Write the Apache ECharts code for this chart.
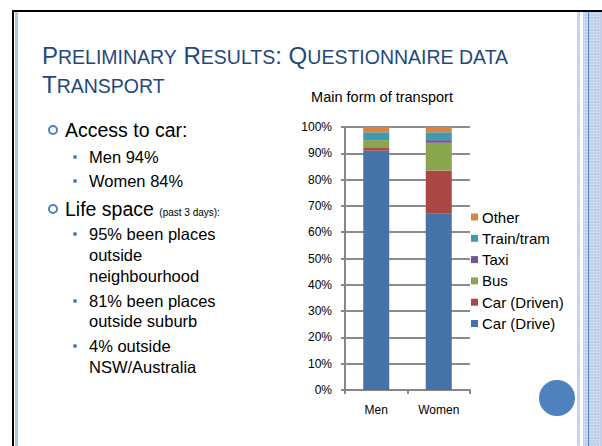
<!DOCTYPE html>
<html>
<head>
<meta charset="utf-8">
<script src="https://cdn.jsdelivr.net/npm/echarts@6/dist/echarts.min.js"></script>
<style>
  html, body { margin: 0; padding: 0; background: #fff; }
  #slide { position: relative; width: 602px; height: 446px; overflow: hidden; background: #fff;
           font-family: "Liberation Sans", Arial, sans-serif; color: #000; }
  #chart { position: absolute; left: 0; top: 0; width: 602px; height: 446px; }
  .frame-top { position: absolute; left: 12px; top: 10px; width: 590px; height: 2px; background: #000; }
  .frame-left { position: absolute; left: 12px; top: 10px; width: 2px; height: 436px; background: #000; }
  .frame-left2 { position: absolute; left: 15px; top: 12px; width: 3px; height: 434px; background: #b4c6e2; }
  .stripe { position: absolute; top: 12px; height: 434px; background-color: #c3d1e8;
            background-image: radial-gradient(#e6edf7 0.8px, transparent 1px);
            background-size: 3px 3px; }
  .stripe-line { position: absolute; left: 588px; top: 12px; width: 1px; height: 434px; background: #4f7fc0; }
  .dot-circle { position: absolute; left: 539px; top: 380px; width: 36px; height: 36px; border-radius: 50%; background: #4f81bd; }
  .title { position: absolute; left: 42px; color: #1f497d; font-size: 24px; line-height: 28px; white-space: nowrap; }
  .title .s { font-size: 19.5px; }
  .t { position: absolute; white-space: nowrap; line-height: 20px; }
  .l1 { left: 65px; font-size: 19.5px; }
  .l2 { left: 89px; font-size: 16.5px; }
  .small { font-size: 10px; }
  .ring { position: absolute; width: 6px; height: 6px; border: 2px solid #4f81bd; border-radius: 50%; }
  .bul { position: absolute; width: 4px; height: 4px; background: #4f81bd; border-radius: 50%; }
</style>
</head>
<body>
<div id="slide">
  <div id="chart"></div>
  <div class="frame-top"></div>
  <div class="frame-left"></div>
  <div class="frame-left2"></div>
  <div class="stripe" style="left:577px;width:3px;"></div>
  <div class="stripe" style="left:583px;width:19px;"></div>
  <div class="stripe-line"></div>
  <div class="dot-circle"></div>

  <div class="title" style="top:42px;">P<span class="s">RELIMINARY</span> R<span class="s">ESULTS</span>: Q<span class="s">UESTIONNAIRE DATA</span></div>
  <div class="title" style="top:71px;">T<span class="s">RANSPORT</span></div>

  <div class="ring" style="left:48px;top:125px;"></div>
  <div class="t l1" style="top:120px;">Access to car:</div>
  <div class="bul" style="left:73px;top:155px;"></div>
  <div class="t l2" style="top:147px;">Men 94%</div>
  <div class="bul" style="left:73px;top:179px;"></div>
  <div class="t l2" style="top:171px;">Women 84%</div>
  <div class="ring" style="left:48px;top:204px;"></div>
  <div class="t l1" style="top:199px;">Life space <span class="small">(past 3 days):</span></div>
  <div class="bul" style="left:73px;top:232px;"></div>
  <div class="t l2" style="top:224px;">95% been places</div>
  <div class="t l2" style="top:245px;">outside</div>
  <div class="t l2" style="top:266px;">neighbourhood</div>
  <div class="bul" style="left:73px;top:299px;"></div>
  <div class="t l2" style="top:291px;">81% been places</div>
  <div class="t l2" style="top:311px;">outside suburb</div>
  <div class="bul" style="left:73px;top:344px;"></div>
  <div class="t l2" style="top:336px;">4% outside</div>
  <div class="t l2" style="top:357px;">NSW/Australia</div>
</div>
<script>
  // chart data (percent of respondents)
  const categories = ['Men', 'Women']
  const carDrive = [91, 67]
  const carDriven = [1, 16.5]
  const bus = [3, 10.5]
  const taxi = [0, 1]
  const trainTram = [3, 3]
  const other = [2, 2]

  const seriesNames = ['Car (Drive)', 'Car (Driven)', 'Bus', 'Taxi', 'Train/tram', 'Other']
  const seriesValues = [carDrive, carDriven, bus, taxi, trainTram, other]
  const seriesColors = ['#4572a7', '#aa4643', '#89a54e', '#71588f', '#4198af', '#db843d']

  const chart = echarts.init(document.getElementById('chart'), null, { renderer: 'svg' })

  const option = {
    animation: false,
    textStyle: { fontFamily: '"Liberation Sans", Arial, sans-serif' },
    title: {
      text: 'Main form of transport',
      left: 382,
      top: 89,
      padding: 0,
      textAlign: 'center',
      textStyle: { fontSize: 14.5, fontWeight: 'normal', color: '#000' }
    },
    legend: {
      orient: 'vertical',
      left: 471,
      top: 209,
      padding: 0,
      itemWidth: 7,
      itemHeight: 7,
      itemGap: 5.3,
      icon: 'rect',
      data: seriesNames.slice().reverse(),
      textStyle: { fontSize: 15, color: '#000', lineHeight: 16, padding: [0, 0, 0, -1] }
    },
    grid: {
      left: 345,
      right: 132,
      top: 127,
      bottom: 56
    },
    xAxis: {
      type: 'category',
      data: categories,
      axisLine: { lineStyle: { color: '#868686', width: 2 } },
      axisTick: { show: true, length: 4, lineStyle: { color: '#868686', width: 2 } },
      axisLabel: { color: '#000', fontSize: 12, margin: 14 }
    },
    yAxis: {
      type: 'value',
      min: 0,
      max: 100,
      interval: 10,
      axisLine: { show: true, lineStyle: { color: '#868686', width: 2 } },
      axisTick: { show: true, length: 4, lineStyle: { color: '#868686', width: 2 } },
      axisLabel: { color: '#000', fontSize: 12, margin: 13, formatter: '{value}%' },
      splitLine: { lineStyle: { color: '#8c8c8c', width: 2 } }
    },
    series: seriesNames.map((name, i) => ({
      name: name,
      type: 'bar',
      stack: 'transport',
      barWidth: 26,
      data: seriesValues[i],
      itemStyle: { color: seriesColors[i] }
    }))
  }

  chart.setOption(option)
</script>
</body>
</html>
